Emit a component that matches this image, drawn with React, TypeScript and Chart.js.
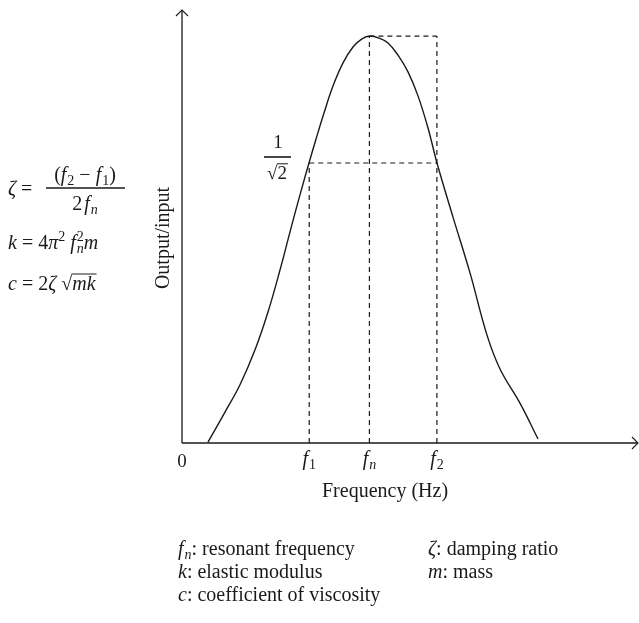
import React, { useEffect, useRef } from "react";
import { Chart, registerables } from "chart.js";

Chart.register(...registerables);

// ---- data ----
const frequency = [5.7, 9.43, 12.72, 16.01, 18.86, 21.49, 23.9, 26.1, 27.85, 29.39, 31.14, 33.11, 35.31, 37.5, 39.47, 41.23, 43.2, 45.18, 47.37, 49.56, 51.75, 53.95, 55.92, 59.43, 63.16, 66.89, 69.74, 74.12, 78.07];
const response = [0.002, 0.076, 0.143, 0.229, 0.322, 0.425, 0.528, 0.619, 0.688, 0.747, 0.811, 0.877, 0.934, 0.973, 0.993, 1.0, 0.995, 0.983, 0.953, 0.912, 0.853, 0.774, 0.688, 0.555, 0.418, 0.265, 0.182, 0.098, 0.01];
const markerNames = ["1", "n", "2"];
const markerFreqs = [27.9, 41.1, 55.9]; // f1, fn, f2
const halfPower = 0.688;
const peak = 1.0;
const xMax = 100;
const yMax = 1.064;
const xTitle = "Frequency (Hz)";
const yTitle = "Output/input";

const FONT = '"Liberation Serif", "Times New Roman", serif';
const INK = "#1a1a1a";

type Seg = { t: string; it?: boolean; sub?: boolean; sup?: boolean; stack?: boolean; over?: boolean; gap?: number };

const legendLeft: Seg[][] = [
  [{ t: "f", it: true }, { t: "n", it: true, sub: true, gap: 1 }, { t: ": resonant frequency" }],
  [{ t: "k", it: true }, { t: ": elastic modulus" }],
  [{ t: "c", it: true }, { t: ": coefficient of viscosity" }],
];
const legendRight: Seg[][] = [
  [{ t: "ζ", it: true }, { t: ": damping ratio" }],
  [{ t: "m", it: true }, { t: ": mass" }],
];

function fnt(size: number, it?: boolean) {
  return `${it ? "italic " : ""}${size}px ${FONT}`;
}

function layoutRich(ctx: CanvasRenderingContext2D, segs: Seg[], size: number) {
  let x = 0;
  let prevStart = 0;
  let prevW = 0;
  const out: { s: Seg; sx: number; w: number; sz: number }[] = [];
  for (const s of segs) {
    const sz = s.sub || s.sup ? size * 0.7 : size;
    ctx.font = fnt(sz, s.it);
    const w = ctx.measureText(s.t).width;
    let sx: number;
    if (s.stack) {
      sx = prevStart;
      x = prevStart + Math.max(prevW, w);
    } else {
      sx = x + (s.gap || 0);
      x = sx + w;
      prevStart = sx;
      prevW = w;
    }
    out.push({ s, sx, w, sz });
  }
  return { out, width: x };
}

function drawRich(ctx: CanvasRenderingContext2D, segs: Seg[], x: number, y: number, size: number, align: "left" | "center" = "left") {
  const { out, width } = layoutRich(ctx, segs, size);
  const x0 = align === "center" ? x - width / 2 : x;
  ctx.textAlign = "left";
  ctx.textBaseline = "alphabetic";
  for (const o of out) {
    ctx.font = fnt(o.sz, o.s.it);
    const dy = o.s.sub ? size * 0.22 : o.s.sup ? -size * 0.38 : 0;
    ctx.fillText(o.s.t, x0 + o.sx, y + dy);
    if (o.s.over) {
      ctx.beginPath();
      ctx.lineWidth = 1;
      ctx.moveTo(x0 + o.sx - 0.5, y - size * 0.8);
      ctx.lineTo(x0 + o.sx + o.w + 1, y - size * 0.8);
      ctx.stroke();
    }
  }
  return width;
}

function hline(ctx: CanvasRenderingContext2D, x1: number, x2: number, y: number, w = 1.2) {
  ctx.beginPath();
  ctx.lineWidth = w;
  ctx.moveTo(x1, y);
  ctx.lineTo(x2, y);
  ctx.stroke();
}

const overlay = {
  id: "overlay",
  afterDraw(chart: any) {
    const ctx: CanvasRenderingContext2D = chart.ctx;
    const { left, right, top, bottom } = chart.chartArea;
    const xs = chart.scales.x;
    ctx.save();
    ctx.strokeStyle = INK;
    ctx.fillStyle = INK;
    ctx.setLineDash([]);
    // axes with arrows
    ctx.lineWidth = 1.3;
    ctx.beginPath();
    ctx.moveTo(left, bottom);
    ctx.lineTo(right, bottom);
    ctx.moveTo(left, bottom);
    ctx.lineTo(left, top);
    ctx.stroke();
    ctx.lineWidth = 1.1;
    ctx.beginPath();
    ctx.moveTo(right - 6, bottom - 6);
    ctx.lineTo(right, bottom);
    ctx.lineTo(right - 6, bottom + 6);
    ctx.moveTo(left - 6, top + 6);
    ctx.lineTo(left, top);
    ctx.lineTo(left + 6, top + 6);
    ctx.stroke();

    // tick labels
    drawRich(ctx, [{ t: "0" }], xs.getPixelForValue(0), 467, 19, "center");
    markerFreqs.forEach((f, i) => {
      drawRich(ctx, [{ t: "f", it: true }, { t: markerNames[i], it: markerNames[i] === "n", sub: true, gap: 1 }], xs.getPixelForValue(f), 465, 20, "center");
    });

    // axis titles
    drawRich(ctx, [{ t: xTitle }], 322, 497, 20, "left");
    ctx.save();
    ctx.translate(169, 238);
    ctx.rotate(-Math.PI / 2);
    ctx.font = fnt(20);
    ctx.textAlign = "center";
    ctx.textBaseline = "alphabetic";
    ctx.fillText(yTitle, 0, 0);
    ctx.restore();

    // 1/sqrt(2) label
    drawRich(ctx, [{ t: "1" }], 278, 148, 19, "center");
    hline(ctx, 264, 291, 157, 1.6);
    drawRich(ctx, [{ t: "√" }, { t: "2", over: true }], 277, 179, 19, "center");

    // formulas
    drawRich(ctx, [{ t: "ζ", it: true }, { t: " = " }], 8, 195, 20);
    drawRich(ctx, [{ t: "(" }, { t: "f", it: true }, { t: "2", sub: true, gap: 1 }, { t: " − " }, { t: "f", it: true }, { t: "1", sub: true, gap: 1 }, { t: ")" }], 85, 181, 20, "center");
    hline(ctx, 46, 125, 188, 1.3);
    drawRich(ctx, [{ t: "2" }, { t: "f", it: true, gap: 2 }, { t: "n", it: true, sub: true, gap: 1 }], 85, 210, 20, "center");
    drawRich(ctx, [{ t: "k", it: true }, { t: " = 4" }, { t: "π", it: true }, { t: "2", sup: true }, { t: " " }, { t: "f", it: true }, { t: "n", it: true, sub: true, gap: 1 }, { t: "2", sup: true, stack: true }, { t: "m", it: true }], 8, 249, 20);
    drawRich(ctx, [{ t: "c", it: true }, { t: " = 2" }, { t: "ζ", it: true }, { t: " √" }, { t: "mk", it: true, over: true }], 8, 290, 20);

    // legend
    legendLeft.forEach((segs, i) => drawRich(ctx, segs, 178, 555 + i * 23, 20));
    legendRight.forEach((segs, i) => drawRich(ctx, segs, 428, 555 + i * 23, 20));
    ctx.restore();
  },
};

function dashed(points: { x: number; y: number }[]) {
  return {
    data: points,
    borderColor: INK,
    borderWidth: 1.2,
    borderDash: [5, 4],
    pointRadius: 0,
    fill: false,
    tension: 0,
    clip: false,
  };
}

export default function App() {
  const ref = useRef<HTMLCanvasElement | null>(null);
  useEffect(() => {
    document.body.style.margin = "0";
    const canvas = ref.current;
    if (!canvas) return;
    const [f1, fn, f2] = markerFreqs;
    const chart = new Chart(canvas, {
      type: "line",
      data: {
        datasets: [
          {
            data: frequency.map((x, i) => ({ x, y: response[i] })),
            borderColor: INK,
            borderWidth: 1.4,
            pointRadius: 0,
            fill: false,
            tension: 0.4,
            clip: false,
          } as any,
          dashed([{ x: f1, y: halfPower }, { x: f2, y: halfPower }]),
          dashed([{ x: fn, y: peak }, { x: f2, y: peak }]),
          dashed([{ x: f1, y: 0 }, { x: f1, y: halfPower }]),
          dashed([{ x: fn, y: 0 }, { x: fn, y: peak }]),
          dashed([{ x: f2, y: 0 }, { x: f2, y: peak }]),
        ],
      },
      options: {
        responsive: false,
        animation: false,
        devicePixelRatio: 1,
        layout: { padding: { left: 182, right: 1, top: 10, bottom: 180 } },
        plugins: { legend: { display: false }, tooltip: { enabled: false }, title: { display: false } },
        scales: {
          x: { type: "linear", min: 0, max: xMax, display: false },
          y: { type: "linear", min: 0, max: yMax, display: false },
        },
      },
      plugins: [overlay],
    } as any);
    if ((document as any).fonts && (document as any).fonts.ready) {
      (document as any).fonts.ready.then(() => chart.draw());
    }
    return () => chart.destroy();
  }, []);
  return (
    <div style={{ width: 639, height: 623, position: "relative", background: "#fff" }}>
      <canvas ref={ref} width={639} height={623} style={{ display: "block" }} />
    </div>
  );
}
